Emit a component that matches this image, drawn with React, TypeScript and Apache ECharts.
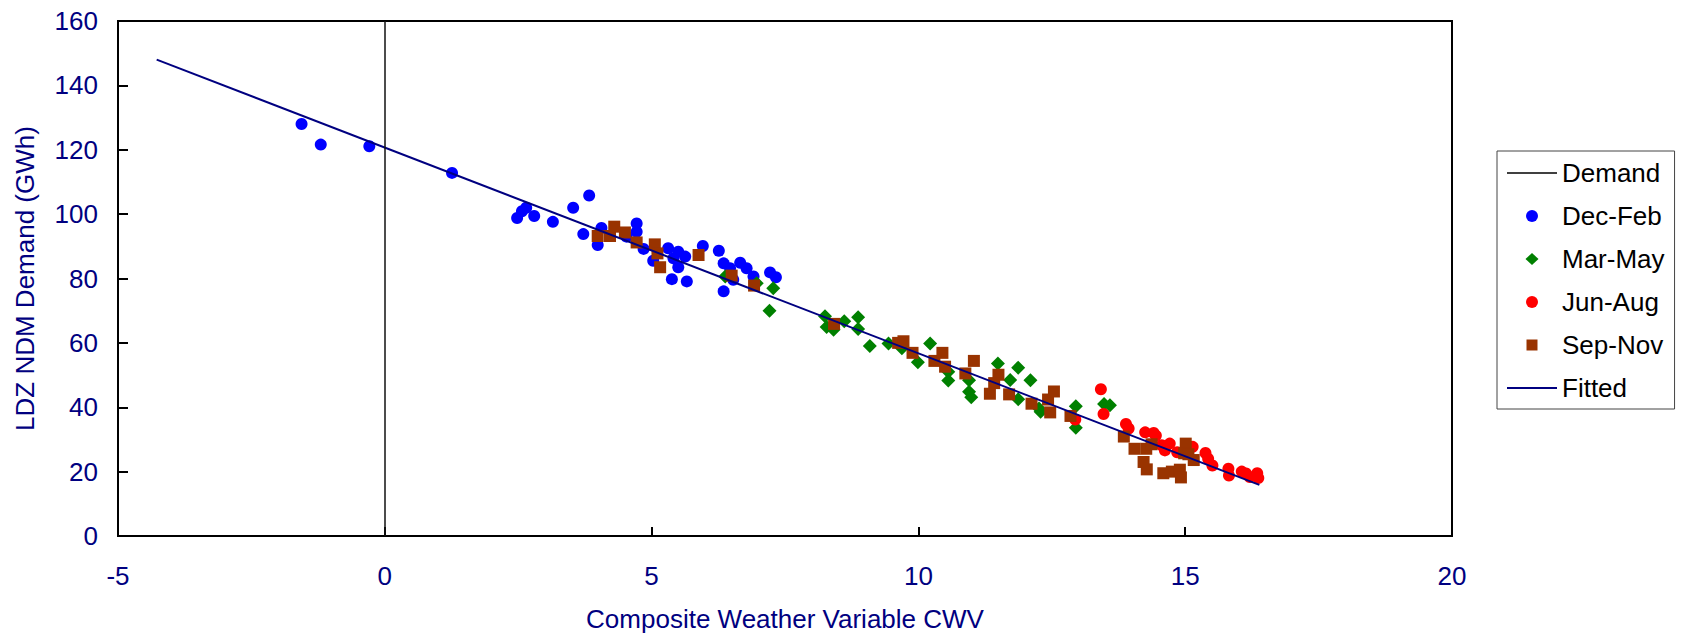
import React, { useEffect, useRef } from "react";
import * as echarts from "echarts";

// Axis ticks
const xTicks = [-5, 0, 5, 10, 15, 20];
const yTicks = [0, 20, 40, 60, 80, 100, 120, 140, 160];

// Dec-Feb (blue circles)
const decFebX = [-1.56, -1.2, -0.29, 1.26, 2.48, 2.57, 2.65, 2.8, 3.15, 3.53, 3.83, 3.72, 3.99, 4.06, 4.53, 4.72, 4.72, 4.85, 5.03, 5.31, 5.5, 5.41, 5.63, 5.5, 5.38, 5.66, 5.96, 6.26, 6.35, 6.47, 6.35, 6.66, 6.78, 6.91, 7.22, 7.33, 6.53];
const decFebY = [128.0, 121.6, 121.1, 112.8, 98.8, 100.9, 102.0, 99.4, 97.6, 102.0, 105.8, 93.8, 90.4, 95.7, 93.0, 97.1, 94.5, 89.2, 85.5, 89.4, 88.3, 86.3, 86.8, 83.5, 79.8, 79.1, 90.1, 88.6, 84.7, 83.2, 76.0, 84.9, 83.2, 80.6, 81.9, 80.4, 79.6];

// Mar-May (green diamonds)
const marMayX = [6.38, 6.97, 7.28, 7.21, 8.25, 8.28, 8.41, 8.61, 8.87, 8.87, 9.09, 9.44, 9.69, 10.22, 9.99, 10.56, 10.56, 10.95, 10.95, 10.99, 11.49, 11.72, 11.87, 12.1, 11.87, 12.26, 12.29, 12.95, 12.95, 13.48, 13.59];
const marMayY = [80.6, 78.5, 77.0, 70.0, 68.3, 64.9, 64.1, 66.7, 68.0, 64.3, 59.0, 59.8, 58.3, 59.8, 54.0, 51.0, 48.3, 48.4, 44.8, 43.1, 53.6, 48.5, 52.3, 48.4, 42.5, 39.6, 38.6, 40.3, 33.6, 41.0, 40.6];

// Jun-Aug (red circles)
const junAugX = [12.94, 13.42, 13.47, 13.89, 13.94, 14.25, 14.41, 14.45, 14.56, 14.62, 14.71, 14.85, 15.14, 15.38, 15.43, 15.51, 15.81, 15.82, 16.06, 16.14, 16.21, 16.35, 16.37];
const junAugY = [36.2, 45.6, 37.9, 34.8, 33.4, 32.2, 32.0, 31.2, 28.2, 26.6, 28.7, 26.0, 27.7, 25.8, 24.0, 21.9, 20.9, 18.8, 20.0, 19.4, 18.3, 19.5, 18.0];

// Sep-Nov (brown squares)
const sepNovX = [3.99, 4.22, 4.3, 4.5, 4.72, 5.06, 5.11, 5.16, 5.88, 6.5, 6.92, 8.42, 9.62, 9.72, 9.89, 10.3, 10.45, 10.5, 10.88, 11.04, 11.5, 11.42, 11.34, 11.7, 12.12, 12.43, 12.54, 12.47, 12.85, 13.85, 14.05, 14.27, 14.37, 14.22, 14.28, 14.59, 14.75, 14.9, 14.92, 15.01, 14.98, 15.06, 15.16];
const sepNovY = [93.2, 93.2, 96.1, 94.3, 91.2, 90.6, 87.8, 83.5, 87.3, 80.9, 77.8, 65.9, 60.0, 60.5, 56.9, 54.4, 56.9, 52.6, 50.5, 54.4, 50.1, 47.5, 44.2, 44.0, 41.1, 42.4, 44.9, 38.4, 37.3, 30.9, 27.1, 27.1, 28.5, 23.0, 20.7, 19.5, 20.0, 20.6, 18.2, 28.7, 25.7, 25.4, 23.6];

// Fitted line end points
const fittedX = [-4.275, 16.39];
const fittedY = [148.0, 15.9];

const zip = (xs: number[], ys: number[]) => xs.map((x, i) => [x, ys[i]]);

const FONT = 'Arial, "Liberation Sans", sans-serif';
const NAVY = "#000080";

// Legend icons drawn inside a 50x12 box (the two leading moves fix the box)
const BOX = "path://M0,0M50,12";
const ICON_LINE_THIN = BOX + "M0,5.25L50,5.25L50,6.75L0,6.75Z";
const ICON_LINE = BOX + "M0,5L50,5L50,7L0,7Z";
const ICON_CIRCLE = BOX + "M31,6A6,6,0,1,1,19,6A6,6,0,1,1,31,6Z";
const ICON_DIAMOND = BOX + "M25,0L31.5,6L25,12L18.5,6Z";
const ICON_SQUARE = BOX + "M19.5,0.5L30.5,0.5L30.5,11.5L19.5,11.5Z";

export default function App() {
  const ref = useRef<HTMLDivElement>(null);
  useEffect(() => {
    if (!ref.current) return;
    const chart = echarts.init(ref.current, undefined, { renderer: "svg" });
    chart.setOption({
      animation: false,
      backgroundColor: "#ffffff",
      textStyle: { fontFamily: FONT },
      grid: {
        left: 118,
        top: 21,
        width: 1334,
        height: 518,
        show: true,
        borderColor: "#000",
        borderWidth: 2,
        containLabel: false,
      },
      xAxis: {
        type: "value",
        min: xTicks[0],
        max: xTicks[xTicks.length - 1],
        interval: 5,
        name: "Composite Weather Variable CWV",
        nameLocation: "middle",
        nameGap: 70,
        nameTextStyle: { color: NAVY, fontSize: 26, fontFamily: FONT },
        axisLine: { onZero: false, lineStyle: { color: "#000", width: 2 } },
        axisTick: { inside: true, length: 9, lineStyle: { color: "#000", width: 2 } },
        axisLabel: { color: NAVY, fontSize: 26, fontFamily: FONT, margin: 27 },
        splitLine: { show: false },
      },
      yAxis: {
        type: "value",
        min: yTicks[0],
        max: yTicks[yTicks.length - 1],
        interval: 20,
        name: "LDZ NDM Demand (GWh)",
        nameLocation: "middle",
        nameGap: 80,
        nameTextStyle: { color: NAVY, fontSize: 26, fontFamily: FONT },
        axisLine: { onZero: false, lineStyle: { color: "#000", width: 2 } },
        axisTick: { inside: true, length: 10, lineStyle: { color: "#000", width: 2 } },
        axisLabel: { color: NAVY, fontSize: 26, fontFamily: FONT, margin: 20 },
        splitLine: { show: false },
      },
      legend: {
        orient: "vertical",
        left: 1497,
        top: 151,
        padding: [9, 10, 8, 10],
        itemGap: 17,
        itemWidth: 50,
        itemHeight: 12,
        borderColor: "#444",
        borderWidth: 1,
        selectedMode: false,
        textStyle: { color: "#000", fontSize: 26, lineHeight: 26, fontFamily: FONT },
        data: [
          { name: "Demand", icon: ICON_LINE_THIN },
          { name: "Dec-Feb", icon: ICON_CIRCLE },
          { name: "Mar-May", icon: ICON_DIAMOND },
          { name: "Jun-Aug", icon: ICON_CIRCLE },
          { name: "Sep-Nov", icon: ICON_SQUARE },
          { name: "Fitted", icon: ICON_LINE },
        ],
      },
      series: [
        {
          name: "Demand",
          type: "line",
          data: [],
          symbol: "none",
          lineStyle: { color: "#000", width: 1.5 },
          itemStyle: { color: "#000" },
          markLine: {
            silent: true,
            symbol: "none",
            label: { show: false },
            lineStyle: { color: "#111", width: 1.5, type: "solid" },
            data: [{ xAxis: 0 }],
          },
        },
        {
          name: "Dec-Feb",
          type: "scatter",
          symbol: "circle",
          symbolSize: 12,
          itemStyle: { color: "#0000ff", opacity: 1 },
          data: zip(decFebX, decFebY),
        },
        {
          name: "Mar-May",
          type: "scatter",
          symbol: "diamond",
          symbolSize: 14,
          itemStyle: { color: "#008000", opacity: 1 },
          data: zip(marMayX, marMayY),
        },
        {
          name: "Jun-Aug",
          type: "scatter",
          symbol: "circle",
          symbolSize: 12,
          itemStyle: { color: "#ff0000", opacity: 1 },
          data: zip(junAugX, junAugY),
        },
        {
          name: "Sep-Nov",
          type: "scatter",
          symbol: "rect",
          symbolSize: 12,
          itemStyle: { color: "#993300", opacity: 1 },
          data: zip(sepNovX, sepNovY),
        },
        {
          name: "Fitted",
          type: "line",
          symbol: "none",
          showSymbol: false,
          lineStyle: { color: NAVY, width: 2 },
          itemStyle: { color: NAVY },
          data: zip(fittedX, fittedY),
        },
      ],
    });
    return () => chart.dispose();
  }, []);
  return (
    <div
      ref={ref}
      style={{ position: "absolute", left: 0, top: 0, width: 1681, height: 637, background: "#fff" }}
    />
  );
}
